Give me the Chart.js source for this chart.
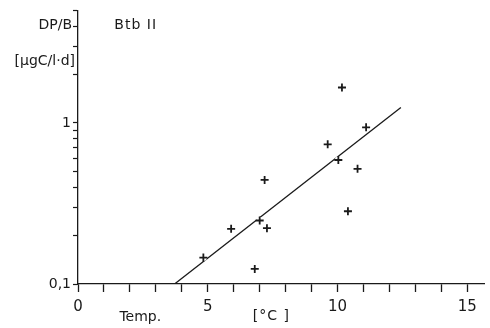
<!DOCTYPE html>
<html>
<head>
<meta charset="utf-8">
<script src="https://cdn.jsdelivr.net/npm/chart.js@4/dist/chart.umd.min.js"></script>
<style>
  html, body { margin: 0; padding: 0; background: #fff; }
  #wrap { width: 490px; height: 328px; }
</style>
</head>
<body>
<div id="wrap"><canvas id="c" width="490" height="328"></canvas></div>
<script>
// measured points, temperature (°C) vs DP/B
const tempC = [4.83, 5.90, 6.81, 7.00, 7.19, 7.28, 9.62, 10.03, 10.17, 10.40, 10.77, 11.10];
const dpb   = [0.146, 0.220, 0.124, 0.248, 0.443, 0.222, 0.737, 0.589, 1.66, 0.283, 0.519, 0.94];

// regression line ends
const fitX = [3.72, 12.44];
const fitY = [0.1, 1.246];

const yTicks = [0.1, 0.2, 0.3, 0.4, 0.5, 0.6, 0.7, 0.8, 0.9, 1, 2, 3, 4, 5];
const xTicks = [0, 1, 2, 3, 4, 5, 6, 7, 8, 9, 10, 11, 12, 13, 14, 15];

const FONT = "'DejaVu Sans', 'Liberation Sans', Arial, sans-serif";
const INK = '#1a1a1a';

const pts = tempC.map((x, i) => ({x: x, y: dpb[i]}));
const fit = fitX.map((x, i) => ({x: x, y: fitY[i]}));

const textPlugin = {
  id: 'labels',
  afterDraw(chart) {
    const {ctx, chartArea, scales: {x, y}} = chart;
    ctx.save();
    ctx.fillStyle = INK;
    ctx.font = '14px ' + FONT;
    ctx.textBaseline = 'middle';
    ctx.textAlign = 'right';
    ctx.fillText('DP/B', chartArea.left - 6, y.getPixelForValue(4) - 1);
    ctx.fillText('[\u00b5gC/l\u00b7d]', chartArea.left - 3, y.getPixelForValue(2.5) + 2);
    ctx.textAlign = 'center';
    ctx.fillText('Temp.', x.getPixelForValue(2.4), chartArea.bottom + 33);
    ctx.letterSpacing = '1px';
    ctx.fillText('[\u00b0C ]', x.getPixelForValue(7.45), chartArea.bottom + 32);
    ctx.textAlign = 'left';
    ctx.fillText('Btb II', x.getPixelForValue(1.4), y.getPixelForValue(4) - 1);
    ctx.restore();
  }
};

new Chart(document.getElementById('c'), {
  type: 'scatter',
  data: {
    datasets: [
      {
        // crosses
        data: pts,
        pointStyle: 'cross',
        pointRadius: 4,
        pointBorderWidth: 1.8,
        pointBorderColor: INK,
        showLine: false,
        order: 0
      },
      {
        // white halo so the fitted line breaks at the crosses
        data: pts,
        pointStyle: 'circle',
        pointRadius: 3.5,
        pointBorderWidth: 0,
        pointBackgroundColor: '#fff',
        showLine: false,
        order: 1
      },
      {
        type: 'line',
        data: fit,
        borderColor: INK,
        borderWidth: 1.3,
        pointRadius: 0,
        fill: false,
        order: 2
      }
    ]
  },
  options: {
    responsive: false,
    animation: false,
    events: [],
    layout: { padding: { top: -5, right: 0, left: 0, bottom: 0 } },
    plugins: {
      legend: { display: false },
      tooltip: { enabled: false }
    },
    scales: {
      x: {
        type: 'linear',
        min: 0,
        max: 15.65,
        afterBuildTicks: s => { s.ticks = xTicks.map(v => ({value: v})); },
        afterFit: s => { s.height = 44; },
        border: { display: true, color: INK, width: 1.3 },
        grid: { display: true, drawOnChartArea: false, drawTicks: true, tickLength: 8, tickColor: INK, tickWidth: 1.3 },
        ticks: {
          autoSkip: false,
          maxRotation: 0,
          padding: 6,
          color: INK,
          font: { family: FONT, size: 15 },
          callback: v => (v % 5 === 0 ? String(v) : '')
        }
      },
      y: {
        type: 'logarithmic',
        min: 0.1,
        max: 5,
        afterBuildTicks: s => { s.ticks = yTicks.map(v => ({value: v})); },
        afterFit: s => { s.width = 78; },
        border: { display: true, color: INK, width: 1.3 },
        grid: { display: true, drawOnChartArea: false, drawTicks: true, tickLength: 5, tickColor: INK, tickWidth: 1.2 },
        ticks: {
          autoSkip: false,
          padding: 2,
          color: INK,
          font: { family: FONT, size: 14 },
          callback: v => (v === 0.1 ? '0,1' : v === 1 ? '1' : '')
        }
      }
    }
  },
  plugins: [textPlugin]
});
</script>
</body>
</html>
